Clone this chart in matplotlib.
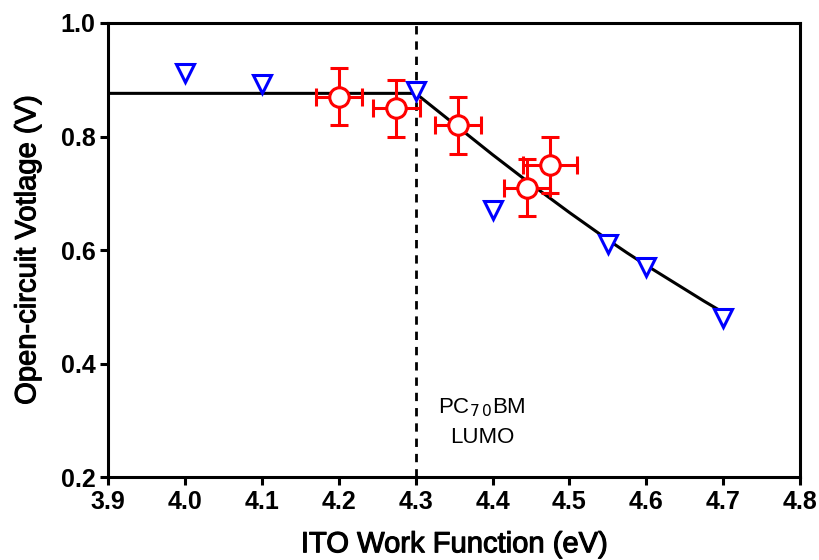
import matplotlib
matplotlib.use("Agg")
import matplotlib.pyplot as plt
import matplotlib.patheffects as pe

plt.rcParams['font.family'] = ['Liberation Sans', 'DejaVu Sans']

# Blue triangles (calculated)
tri_x = [4.0, 4.1, 4.3, 4.4, 4.55, 4.6, 4.7]
tri_y = [0.912, 0.892, 0.88, 0.67, 0.61, 0.57, 0.48]

# Red circles (measured) with error bars
exp_x = [4.2, 4.275, 4.355, 4.445, 4.475]
exp_y = [0.87, 0.85, 0.82, 0.71, 0.75]
exp_xerr = [0.03, 0.03, 0.03, 0.03, 0.035]
exp_yerr = [0.05, 0.05, 0.05, 0.05, 0.05]

# Fit curve
fit_x = [3.9, 4.3, 4.325, 4.35, 4.375, 4.40, 4.425, 4.45, 4.475, 4.50, 4.525,
         4.55, 4.575, 4.60, 4.625, 4.65, 4.675, 4.70]
fit_y = [0.876, 0.876, 0.849, 0.822, 0.795, 0.768, 0.742, 0.716, 0.691, 0.666, 0.642,
         0.618, 0.595, 0.573, 0.552, 0.531, 0.510, 0.490]

lumo_x = 4.3

fig = plt.figure(figsize=(8.19, 5.6), dpi=100)
ax = fig.add_axes([0.132, 0.148, 0.845, 0.811])

ax.plot(fit_x, fit_y, color='black', lw=2.2, zorder=2)
ax.plot([lumo_x, lumo_x], [0.2, 1.0], color='black', lw=2, ls=(0, (3, 2.5)), zorder=1)

ax.plot(tri_x, tri_y, linestyle='none', marker='v', markersize=13, markerfacecolor='white',
        markeredgecolor='#0000ff', markeredgewidth=2.2, zorder=4)

ax.errorbar(exp_x, exp_y, xerr=exp_xerr, yerr=exp_yerr, fmt='o', color='#ff0000',
            markersize=14, markerfacecolor='white', markeredgecolor='#ff0000',
            markeredgewidth=2.2, elinewidth=2.2, capsize=6.5, capthick=2.2, zorder=3)

ax.text(4.386, 0.322, 'PC$_{7\\,0}$BM', ha='center', va='center', fontsize=16)
ax.text(4.386, 0.269, 'LUMO', ha='center', va='center', fontsize=16)

ax.set_xlim(3.9, 4.8)
ax.set_ylim(0.2, 1.0)
ax.set_xticks([3.9, 4.0, 4.1, 4.2, 4.3, 4.4, 4.5, 4.6, 4.7, 4.8])
ax.set_yticks([0.2, 0.4, 0.6, 0.8, 1.0])
ax.set_xticklabels(['3.9', '4.0', '4.1', '4.2', '4.3', '4.4', '4.5', '4.6', '4.7', '4.8'],
                   fontweight='bold', fontsize=18)
ax.set_yticklabels(['0.2', '0.4', '0.6', '0.8', '1.0'], fontweight='bold', fontsize=18)
ax.tick_params(direction='out', length=6, width=2.2, pad=3)
for s in ax.spines.values():
    s.set_linewidth(2.2)

heavy = [pe.withStroke(linewidth=0.8, foreground='black')]
xl = ax.set_xlabel('ITO Work Function (eV)', fontsize=21, labelpad=12)
yl = ax.set_ylabel('Open-circuit Votlage (V)', fontsize=21, labelpad=14)
xl.set_path_effects(heavy)
yl.set_path_effects(heavy)

fig.savefig('out.png', dpi=100)
